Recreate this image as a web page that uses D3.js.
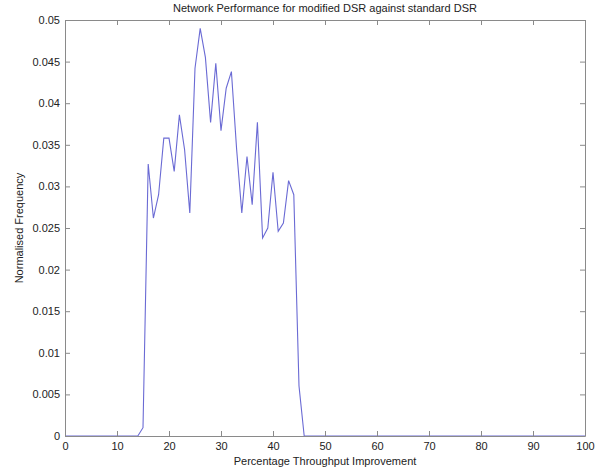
<!DOCTYPE html>
<html>
<head>
<meta charset="utf-8">
<script src="https://cdn.jsdelivr.net/npm/d3@7"></script>
<style>
html,body{margin:0;padding:0;background:#fff;}
svg{display:block;font-family:"Liberation Sans",Arial,sans-serif;}
</style>
</head>
<body>
<svg id="chart" width="595" height="470"></svg>
<script>
// Data: percentage throughput improvement (x) vs normalised frequency (y)
const improvement = d3.range(0, 101);
const freqNonZero = {
  15: 0.001, 16: 0.0327, 17: 0.0262, 18: 0.029, 19: 0.0358, 20: 0.0358,
  21: 0.0318, 22: 0.0386, 23: 0.0344, 24: 0.0268, 25: 0.0442, 26: 0.049,
  27: 0.0455, 28: 0.0377, 29: 0.0448, 30: 0.0367, 31: 0.0418, 32: 0.0438,
  33: 0.0345, 34: 0.0268, 35: 0.0336, 36: 0.0278, 37: 0.0377, 38: 0.0238,
  39: 0.025, 40: 0.0317, 41: 0.0246, 42: 0.0256, 43: 0.0307, 44: 0.029,
  45: 0.006
};
const frequency = improvement.map(x => freqNonZero[x] || 0);
const xTicks = [0,10,20,30,40,50,60,70,80,90,100];
const yTicks = [0,0.005,0.01,0.015,0.02,0.025,0.03,0.035,0.04,0.045,0.05];
const yTickLabels = ["0","0.005","0.01","0.015","0.02","0.025","0.03","0.035","0.04","0.045","0.05"];

const svg = d3.select("#chart");
const L = 65, R = 585, T = 20, B = 436;
const x = d3.scaleLinear().domain([0,100]).range([L,R]);
const y = d3.scaleLinear().domain([0,0.05]).range([B,T]);
const axisColor = "#8a8a8a";
const textColor = "#222";

// line
svg.append("path")
  .datum(improvement.map((v,i)=>[v,frequency[i]]))
  .attr("fill","none")
  .attr("stroke","#6a6ad4")
  .attr("stroke-width",1.1)
  .attr("d", d3.line().x(d=>x(d[0])).y(d=>y(d[1])));

// axes
const tickLen = 5;
const gx = svg.append("g").attr("transform",`translate(0,${B})`)
  .call(d3.axisBottom(x).tickValues(xTicks).tickSizeInner(-tickLen).tickSizeOuter(0).tickPadding(6).tickFormat(d3.format("d")));
const gxTop = svg.append("g").attr("transform",`translate(0,${T})`)
  .call(d3.axisTop(x).tickValues(xTicks).tickSizeInner(-tickLen).tickSizeOuter(0).tickFormat(""));
const gy = svg.append("g").attr("transform",`translate(${L},0)`)
  .call(d3.axisLeft(y).tickValues(yTicks).tickSizeInner(-tickLen).tickSizeOuter(0).tickPadding(5).tickFormat((d,i)=>yTickLabels[i]));
const gyR = svg.append("g").attr("transform",`translate(${R},0)`)
  .call(d3.axisRight(y).tickValues(yTicks).tickSizeInner(-tickLen).tickSizeOuter(0).tickFormat(""));

[gx,gxTop,gy,gyR].forEach(g=>{
  g.selectAll(".domain").attr("stroke",axisColor);
  g.selectAll(".tick line").attr("stroke",axisColor);
  g.selectAll("text").attr("fill",textColor).style("font-size","11px").style("font-family","'Liberation Sans',Arial,sans-serif");
});
gx.selectAll("text").attr("dy","0.71em").attr("y",6);

// title and labels
svg.append("text").attr("x",(L+R)/2).attr("y",12).attr("text-anchor","middle")
  .attr("fill",textColor).style("font-size","11px").text("Network Performance for modified DSR against standard DSR");
svg.append("text").attr("x",(L+R)/2).attr("y",465).attr("text-anchor","middle")
  .attr("fill",textColor).style("font-size","11px").text("Percentage Throughput Improvement");
svg.append("text").attr("transform",`translate(23,${(T+B)/2}) rotate(-90)`).attr("text-anchor","middle")
  .attr("fill",textColor).style("font-size","11px").text("Normalised Frequency");
</script>
</body>
</html>
